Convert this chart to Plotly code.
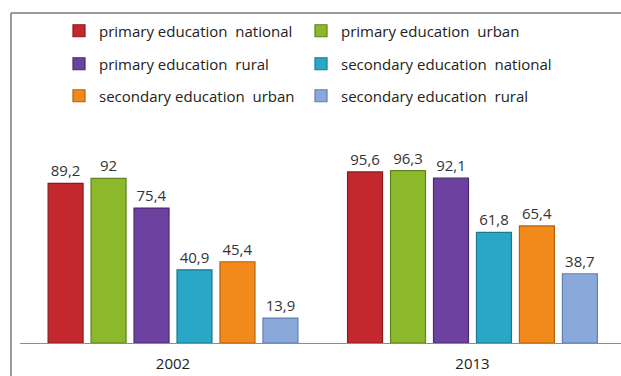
import plotly.graph_objects as go

# Enrolment rates by level of education and area
years = ["2002", "2013"]
series_names = [
    "primary education  national",
    "primary education  urban",
    "primary education  rural",
    "secondary education  national",
    "secondary education  urban",
    "secondary education  rural",
]
primary_national = [89.2, 95.6]
primary_urban = [92.0, 96.3]
primary_rural = [75.4, 92.1]
secondary_national = [40.9, 61.8]
secondary_urban = [45.4, 65.4]
secondary_rural = [13.9, 38.7]

series_values = [
    primary_national,
    primary_urban,
    primary_rural,
    secondary_national,
    secondary_urban,
    secondary_rural,
]
fill_colors = ["#c3282e", "#8cb92c", "#6c41a0", "#2aa6c6", "#f28a1b", "#8aa8d9"]
edge_colors = ["#8a1a1f", "#5f821c", "#482a70", "#1b7890", "#b5610f", "#5f7fb3"]

FONT = "'Open Sans', sans-serif"


def fmt(v):
    # decimal comma, no trailing zero for whole numbers
    return format(v, "g").replace(".", ",")


# one legend box per entry, laid out as a 2-column, 3-row key
legend_ids = ["legend"] + [f"legend{i}" for i in range(2, len(series_names) + 1)]

fig = go.Figure()
for name, vals, fc, ec, lg in zip(series_names, series_values, fill_colors,
                                  edge_colors, legend_ids):
    fig.add_trace(
        go.Bar(
            name=name,
            x=years,
            y=vals,
            legend=lg,
            text=[fmt(v) for v in vals],
            textposition="outside",
            textfont=dict(family=FONT, size=15, color="#333333"),
            constraintext="none",
            cliponaxis=False,
            marker=dict(color=fc, line=dict(color=ec, width=1.2)),
        )
    )

# plot area in pixels: x 20..621, y 164..343
PX0, PW = 20, 601
PY0, PH = 343, 179


def px(x):
    return (x - PX0) / PW


def py(y):
    return (PY0 - y) / PH


frame = dict(color="#7a7a7a", width=1.5)
fig.add_shape(type="line", xref="paper", yref="paper",
              x0=px(11), x1=px(11), y0=py(13), y1=py(380), line=frame)
fig.add_shape(type="line", xref="paper", yref="paper",
              x0=px(11), x1=px(625), y0=py(13), y1=py(13), line=frame)

col_x = [59, 301]
row_y = [31, 64, 96]
legends = {}
for i, lg in enumerate(legend_ids):
    legends[lg] = dict(
        orientation="h",
        x=px(col_x[i % 2]),
        xanchor="left",
        y=py(row_y[i // 2]),
        yanchor="middle",
        font=dict(family=FONT, size=15, color="#222222"),
        bgcolor="rgba(0,0,0,0)",
    )

fig.update_layout(
    width=621,
    height=376,
    margin=dict(l=PX0, r=0, t=164, b=376 - PY0),
    paper_bgcolor="white",
    plot_bgcolor="white",
    barmode="group",
    bargap=0.139,
    bargroupgap=0.186,
    showlegend=True,
    xaxis=dict(
        range=[-0.511, 1.496],
        showline=True,
        linecolor="#8c8c8c",
        linewidth=1.2,
        ticks="",
        ticklabelstandoff=7,
        showgrid=False,
        tickfont=dict(family=FONT, size=15, color="#222222"),
        fixedrange=True,
    ),
    yaxis=dict(
        range=[0, 100],
        visible=False,
        showgrid=False,
        zeroline=False,
        fixedrange=True,
    ),
    **legends,
)

fig.write_html("out.html")
